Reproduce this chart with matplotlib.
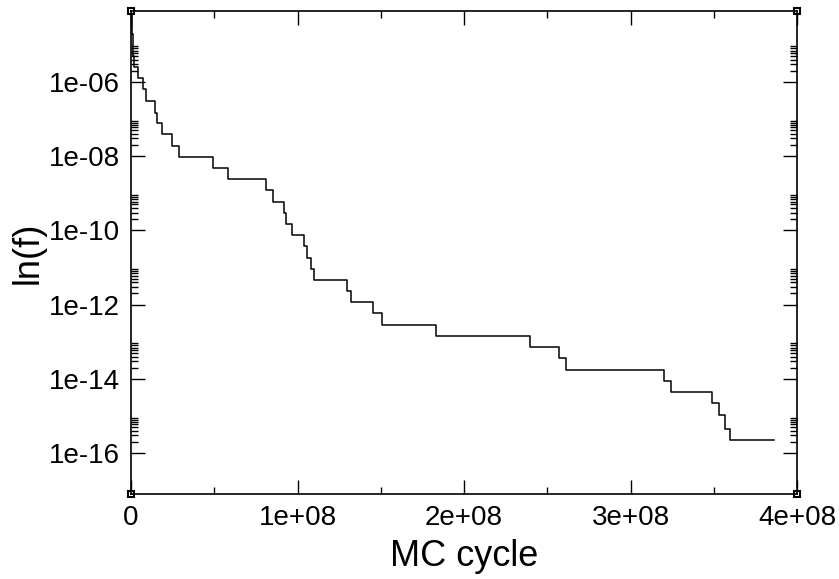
import matplotlib
matplotlib.use("Agg")
import matplotlib.pyplot as plt
import numpy
from matplotlib.ticker import FixedLocator, FuncFormatter

# step positions (MC cycle where each ln(f) level starts) and ln(f) values
mc_cycle = [0.0, 0.6e6, 0.9e6, 1.2e6, 1.5e6, 2.1e6, 4.4e6, 7.4e6, 9.0e6,
            14.4e6, 15.8e6, 18.8e6, 24.8e6, 29.0e6, 49.1e6, 58.1e6, 80.9e6,
            85.5e6, 91.9e6, 93.1e6, 96.9e6, 104.1e6, 105.5e6, 108.3e6,
            110.1e6, 129.6e6, 132.0e6, 145.2e6, 150.5e6, 182.9e6, 239.8e6,
            257.2e6, 261.1e6, 320.1e6, 324.1e6, 349.1e6, 353.1e6, 356.7e6,
            359.7e6, 386.0e6]
ln_f = [7.85e-5, 3.94e-5, 1.98e-5, 9.93e-6, 5.02e-6, 2.58e-6, 1.26e-6,
        6.36e-7, 3.13e-7, 1.49e-7, 7.71e-8, 3.89e-8, 1.92e-8, 9.70e-9,
        4.90e-9, 2.43e-9, 1.23e-9, 5.94e-10, 3.00e-10, 1.53e-10, 7.61e-11,
        3.80e-11, 1.86e-11, 9.40e-12, 4.60e-12, 2.37e-12, 1.20e-12,
        5.82e-13, 2.87e-13, 1.44e-13, 7.29e-14, 3.57e-14, 1.77e-14,
        8.83e-15, 4.41e-15, 2.19e-15, 1.09e-15, 4.57e-16, 2.20e-16, 2.20e-16]

x_major = [0, 1e8, 2e8, 3e8, 4e8]
x_minor = [0.5e8, 1.5e8, 2.5e8, 3.5e8]
y_major = [1e-6, 1e-8, 1e-10, 1e-12, 1e-14, 1e-16]

plt.rcParams['font.family'] = ['Liberation Sans', 'DejaVu Sans']

fig = plt.figure(figsize=(8.39, 5.79), dpi=100)
ax = fig.add_axes([131/839, 1 - 494/579, 666/839, 483/579])

ax.step(mc_cycle, ln_f, where='post', color='black', lw=1.1)

# small square marks gnuplot leaves at the frame corners
ax.plot([0, 0, 1, 1], [0, 1, 0, 1], 's', transform=ax.transAxes, clip_on=False,
        ms=4, mfc='white', mec='black', mew=1.5)

ax.set_yscale('log')
ax.set_xlim(0, 4e8)
ax.set_ylim(10**-17.1, 10**-4.09)

y_minor = [m * e for e in y_major for m in range(2, 10)]
ax.xaxis.set_major_locator(FixedLocator(x_major))
ax.xaxis.set_minor_locator(FixedLocator(x_minor))
ax.yaxis.set_major_locator(FixedLocator(y_major))
ax.yaxis.set_minor_locator(FixedLocator(y_minor))

ax.xaxis.set_major_formatter(FuncFormatter(lambda v, p: "0" if v == 0 else "%.0e" % v))
ax.yaxis.set_major_formatter(FuncFormatter(lambda v, p: "%.0e" % v))
ax.yaxis.set_minor_formatter(FuncFormatter(lambda v, p: ""))

ax.tick_params(which='both', direction='in', top=True, right=True, width=1.0,
               labelsize=20, pad=8)
ax.tick_params(which='major', length=10)
ax.tick_params(which='minor', length=5)
for s in ax.spines.values():
    s.set_linewidth(1.2)

ax.set_xlabel("MC cycle", fontsize=26, labelpad=6)
ax.set_ylabel("ln(f)", fontsize=26, labelpad=2)

fig.savefig("out.png", dpi=100)
